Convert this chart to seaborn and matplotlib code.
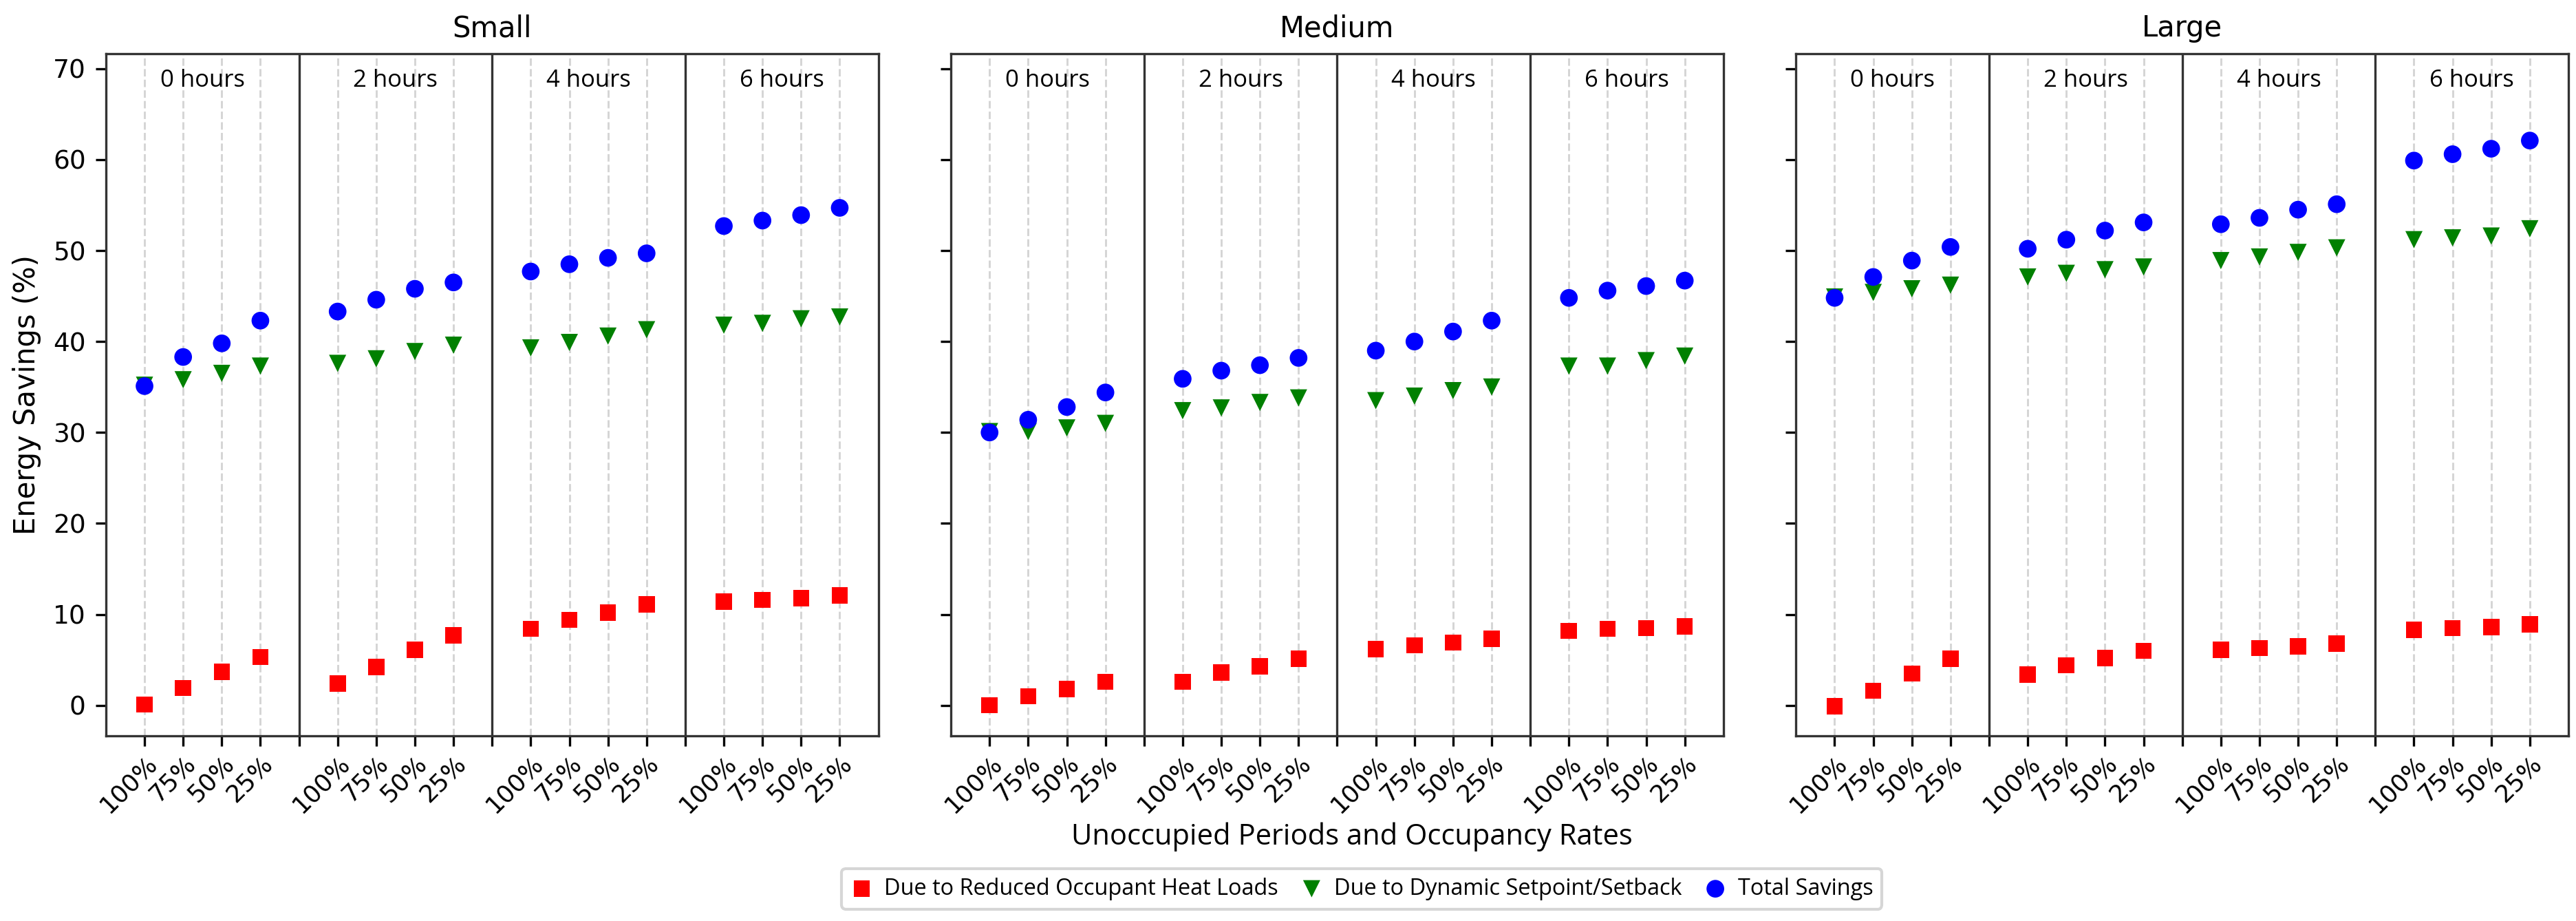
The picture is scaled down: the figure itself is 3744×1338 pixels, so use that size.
import numpy as np
import pandas as pd
import matplotlib
matplotlib.use("Agg")
import matplotlib.pyplot as plt
import seaborn as sns
from matplotlib.ticker import FixedLocator

buildings = ["Small", "Medium", "Large"]
periods = ["0 hours", "2 hours", "4 hours", "6 hours"]
occupancy = ["100%", "75%", "50%", "25%"]
series_names = ["Due to Reduced Occupant Heat Loads",
                "Due to Dynamic Setpoint/Setback",
                "Total Savings"]

# values ordered: 0h(100,75,50,25), 2h(...), 4h(...), 6h(...)
small_heat = [0.1, 1.9, 3.7, 5.3, 2.4, 4.2, 6.1, 7.7, 8.4, 9.4, 10.2, 11.1, 11.4, 11.6, 11.8, 12.1]
small_setpoint = [35.2, 35.8, 36.5, 37.3, 37.6, 38.1, 38.9, 39.6, 39.3, 39.9, 40.6, 41.3, 41.8, 42.0, 42.5, 42.7]
small_total = [35.1, 38.3, 39.8, 42.3, 43.3, 44.6, 45.8, 46.5, 47.7, 48.5, 49.2, 49.7, 52.7, 53.3, 53.9, 54.7]

medium_heat = [0.0, 1.0, 1.8, 2.6, 2.6, 3.6, 4.3, 5.1, 6.2, 6.6, 6.9, 7.3, 8.2, 8.4, 8.5, 8.7]
medium_setpoint = [30.1, 30.1, 30.5, 31.0, 32.4, 32.7, 33.3, 33.8, 33.5, 34.0, 34.6, 35.0, 37.3, 37.3, 37.9, 38.4]
medium_total = [30.0, 31.4, 32.8, 34.4, 35.9, 36.8, 37.4, 38.2, 39.0, 40.0, 41.1, 42.3, 44.8, 45.6, 46.1, 46.7]

large_heat = [-0.1, 1.6, 3.5, 5.1, 3.4, 4.4, 5.2, 6.0, 6.1, 6.3, 6.5, 6.8, 8.3, 8.5, 8.6, 8.9]
large_setpoint = [44.9, 45.4, 45.8, 46.2, 47.1, 47.5, 47.9, 48.2, 48.9, 49.3, 49.8, 50.3, 51.2, 51.4, 51.6, 52.4]
large_total = [44.8, 47.1, 48.9, 50.4, 50.2, 51.2, 52.2, 53.1, 52.9, 53.6, 54.5, 55.1, 59.9, 60.6, 61.2, 62.1]

data = {
    "Small": [small_heat, small_setpoint, small_total],
    "Medium": [medium_heat, medium_setpoint, medium_total],
    "Large": [large_heat, large_setpoint, large_total],
}

rows = []
for b in buildings:
    for s_name, vals in zip(series_names, data[b]):
        for k, v in enumerate(vals):
            g, i = divmod(k, 4)
            rows.append({"building": b, "series": s_name, "period": periods[g],
                         "occ": occupancy[i], "pos": g * 5 + i, "value": v})
df = pd.DataFrame(rows)

markers = ["s", "v", "o"]
colors = ["red", "green", "blue"]
sizes = [32, 36, 38]

plt.rcParams["font.family"] = ["DejaVu Sans"]
fig, axes = plt.subplots(1, 3, figsize=(3745 / 300, 1338 / 300), dpi=300, sharey=True)
fig.subplots_adjust(left=0.0411, right=0.9968, top=0.9417, bottom=0.2011, wspace=0.094)

tick_pos = [g * 5 + i for g in range(4) for i in range(4)]
tick_lab = [occupancy[i] for g in range(4) for i in range(4)]
sep_pos = [4, 9, 14]

for j, (ax, b) in enumerate(zip(axes, buildings)):
    sub = df[df.building == b]
    for s_name, m, c, sz in zip(series_names, markers, colors, sizes):
        d = sub[sub.series == s_name]
        sns.scatterplot(data=d, x="pos", y="value", marker=m, color=c, s=sz,
                        linewidth=0, edgecolor="none", ax=ax,
                        label=s_name if j == 0 else None, legend=False, zorder=3)
    ax.set_xlim(-1, 19)
    ax.set_ylim(-3.35, 71.65)
    ax.set_yticks([0, 10, 20, 30, 40, 50, 60, 70])
    ax.set_xticks(tick_pos)
    ax.set_xticklabels(tick_lab, rotation=45, ha="right", rotation_mode="anchor", fontsize=8.5)
    ax.tick_params(axis="x", which="major", pad=2)
    ax.xaxis.set_minor_locator(FixedLocator(sep_pos))
    ax.tick_params(axis="x", which="minor", length=3.5, width=0.8)
    ax.tick_params(axis="y", labelsize=9)
    ax.grid(axis="x", which="major", linestyle="--", color="#d5d5d5", linewidth=0.7, zorder=0)
    ax.set_axisbelow(True)
    for sp in sep_pos:
        ax.axvline(sp, color="#333333", linewidth=0.8, zorder=2)
    for g, p in enumerate(periods):
        ax.text(g * 5 + 1.5, 68.7, p, ha="center", va="center", fontsize=8.3,
                family="Open Sans")
    ax.set_title(b, fontsize=10, pad=6)
    ax.set_xlabel("")
    ax.set_ylabel("Energy Savings (%)" if j == 0 else "", fontsize=10)
    for spine in ax.spines.values():
        spine.set_color("#333333")
        spine.set_linewidth(0.8)

fig.text(0.5247, 0.0912, "Unoccupied Periods and Occupancy Rates", ha="center", va="center",
         fontsize=10, family="Open Sans")

handles, labels = axes[0].get_legend_handles_labels()
fig.legend(handles, labels, loc="center", bbox_to_anchor=(0.5285, 0.035), ncol=3,
           prop={"family": "Open Sans", "size": 7.8}, handlelength=1.0,
           handletextpad=0.5, columnspacing=1.0, frameon=True)

fig.savefig("out.png", dpi=300)
